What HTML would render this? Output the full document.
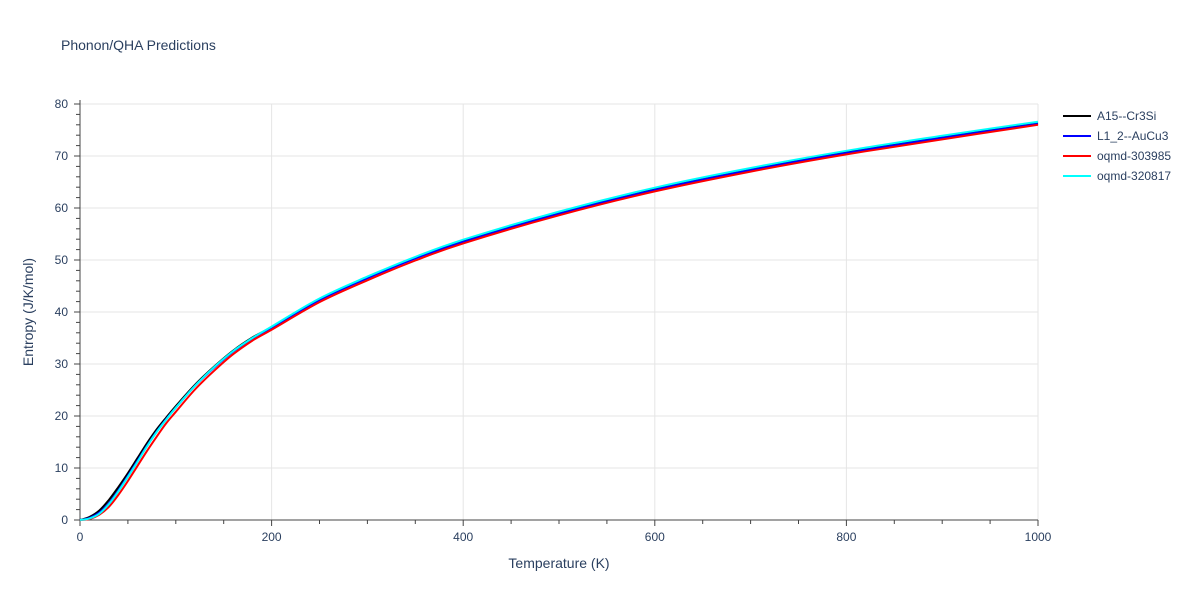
<!DOCTYPE html>
<html><head><meta charset="utf-8"><style>
body{margin:0;background:#fff;font-family:"Liberation Sans",sans-serif;}
svg text{font-family:"Liberation Sans",sans-serif;fill:#2a3f5f;}
</style></head><body>
<svg id="chart" width="1200" height="600">
<text x="61" y="50" font-size="14">Phonon/QHA Predictions</text>
<g id="grid"></g><g id="axes"></g><g id="lines"></g><g id="legend"></g>
<text x="559" y="568" font-size="14" text-anchor="middle">Temperature (K)</text>
<text transform="translate(33,312) rotate(-90)" font-size="14" text-anchor="middle">Entropy (J/K/mol)</text>
</svg>
<script>
const temps=[0,10,20,30,40,50,60,70,80,90,100,120,140,160,180,200,250,300,350,400,500,600,700,800,900,1000];
const sA15=[0,0.6,1.8,3.8,6.3,9.0,11.9,14.8,17.4,19.7,21.9,26.0,29.5,32.6,35.1,37.1,42.4,46.6,50.4,53.6,59.0,63.6,67.4,70.7,73.6,76.3];
const sL12=[0,0.4,1.4,3.2,5.7,8.5,11.4,14.3,17.0,19.4,21.6,25.8,29.3,32.4,34.9,37.0,42.3,46.5,50.3,53.5,58.9,63.5,67.3,70.6,73.5,76.2];
const s303985=[0,0.2,1.0,2.5,4.8,7.5,10.4,13.3,16.0,18.6,20.8,25.1,28.7,31.9,34.5,36.6,41.9,46.1,49.9,53.2,58.6,63.2,67.0,70.3,73.2,76.0];
const s320817=[0,0.3,1.2,3.0,5.5,8.3,11.2,14.2,16.9,19.3,21.6,25.8,29.4,32.5,35.0,37.2,42.6,46.8,50.6,53.9,59.3,63.9,67.7,71.0,73.9,76.6];
const series=[["A15--Cr3Si",sA15,"#000000"],["L1_2--AuCu3",sL12,"#0000ff"],["oqmd-303985",s303985,"#ff0000"],["oqmd-320817",s320817,"#00ffff"]];
const xTicks=[0,200,400,600,800,1000];
const yTicks=[0,10,20,30,40,50,60,70,80];
const X0=80,X1=1038,Y0=520,Y1=104;
const xs=v=>X0+(v/1000)*(X1-X0);
const ys=v=>Y0-(v/80)*(Y0-Y1);
const NS="http://www.w3.org/2000/svg";
function mk(p,tag,a){const e=document.createElementNS(NS,tag);for(const k in a)e.setAttribute(k,a[k]);p.appendChild(e);return e;}
function smooth(pts){let d='M'+pts[0][0].toFixed(1)+','+pts[0][1].toFixed(1);
for(let i=0;i<pts.length-1;i++){const p0=pts[Math.max(0,i-1)],p1=pts[i],p2=pts[i+1],p3=pts[Math.min(pts.length-1,i+2)];
const c1=[p1[0]+(p2[0]-p0[0])/6,p1[1]+(p2[1]-p0[1])/6],c2=[p2[0]-(p3[0]-p1[0])/6,p2[1]-(p3[1]-p1[1])/6];
d+='C'+c1[0].toFixed(1)+','+c1[1].toFixed(1)+' '+c2[0].toFixed(1)+','+c2[1].toFixed(1)+' '+p2[0].toFixed(1)+','+p2[1].toFixed(1);}
return d;}
const grid=document.getElementById('grid'),axes=document.getElementById('axes'),lines=document.getElementById('lines'),leg=document.getElementById('legend');
yTicks.forEach(v=>{if(v>0){const l=mk(grid,'line',{x1:X0,x2:X1,y1:ys(v),y2:ys(v),stroke:'#e5e5e5'});

}
const t=mk(axes,'text',{x:X0-12,y:ys(v)+4,'font-size':12,'text-anchor':'end'});t.textContent=v;

});
for(let v=0;v<=80;v+=2){mk(axes,'line',{x1:X0-(v%10?4:6),x2:X0,y1:ys(v),y2:ys(v),stroke:'#444'});}
xTicks.forEach(v=>{if(v>0){const l=mk(grid,'line',{x1:xs(v),x2:xs(v),y1:Y1,y2:Y0,stroke:'#e5e5e5'});

}
const t=mk(axes,'text',{x:xs(v),y:Y0+21,'font-size':12,'text-anchor':'middle'});t.textContent=v;

});
for(let v=0;v<=1000;v+=50){mk(axes,'line',{x1:xs(v),x2:xs(v),y1:Y0,y2:Y0+(v%200?4:6),stroke:'#444'});}
mk(axes,'line',{x1:X0,x2:X0,y1:Y1-4,y2:Y0,stroke:'#444'});
mk(axes,'line',{x1:X0,x2:X1,y1:Y0,y2:Y0,stroke:'#444'});
series.forEach((s,i)=>{const p=mk(lines,'path',{d:smooth(s[1].map((v,j)=>[xs(temps[j]),ys(v)])),fill:'none',stroke:s[2],'stroke-width':2});


const y=116+i*20;const g=mk(leg,'g',{});


mk(g,'line',{x1:1063,x2:1091,y1:y,y2:y,stroke:s[2],'stroke-width':2});
const t=mk(g,'text',{x:1097,y:y+4,'font-size':12});t.textContent=s[0];});
</script>
</body></html>
